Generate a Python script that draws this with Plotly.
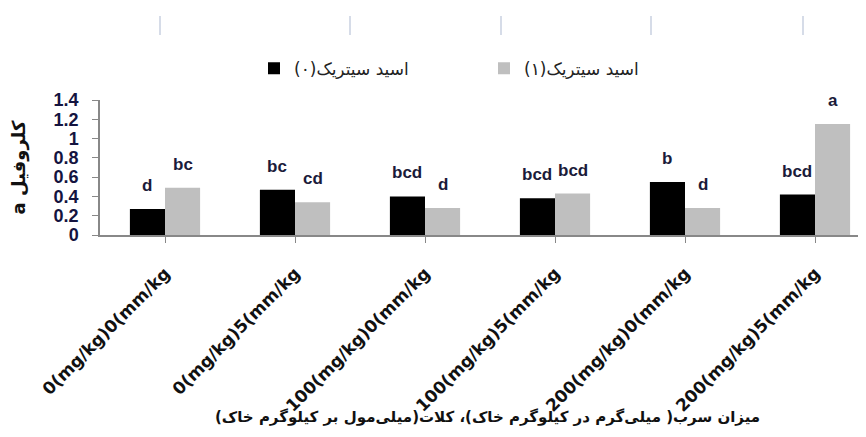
import plotly.graph_objects as go

categories = ["0(mg/kg)0(mm/kg", "0(mg/kg)5(mm/kg", "100(mg/kg)0(mm/kg",
              "100(mg/kg)5(mm/kg", "200(mg/kg)0(mm/kg", "200(mg/kg)5(mm/kg"]
series_names = ["\u202bاسید سیتریک(۰)\u202c", "\u202bاسید سیتریک(۱)\u202c"]
values_0 = [0.27, 0.47, 0.40, 0.38, 0.55, 0.42]
values_1 = [0.49, 0.34, 0.28, 0.43, 0.28, 1.15]
letters_0 = ["d", "bc", "bcd", "bcd", "b", "bcd"]
letters_1 = ["bc", "cd", "d", "bcd", "d", "a"]
y_ticks = [0, 0.2, 0.4, 0.6, 0.8, 1, 1.2, 1.4]
y_title = "\u202bکلروفیل a\u202c"
x_title = "\u202bمیزان سرب( میلی‌گرم در کیلوگرم خاک)، کلات(میلی‌مول بر کیلوگرم خاک)\u202c"

idx = list(range(len(categories)))

# page has an 8px body margin: plot area spans page x 100..866, y 99.5..235.5
OFF = 8
L, TOP, PW, PH = 100 - OFF, 99.5 - OFF, 766, 136


def px_to_paper_x(px):
    return (px - 100) / PW


def py_to_paper_y(py):
    return (235.5 - py) / PH


fig = go.Figure()
fig.add_trace(go.Bar(x=idx, y=values_0, name=series_names[0],
                     marker=dict(color="#000000", line=dict(width=0))))
fig.add_trace(go.Bar(x=idx, y=values_1, name=series_names[1],
                     marker=dict(color="#BFBFBF", line=dict(width=0))))

label_font = dict(family="Liberation Sans", size=17, color="#1b1b3a", weight="bold")
for i in idx:
    fig.add_annotation(x=i - 0.135, y=values_0[i], text=letters_0[i], showarrow=False,
                       yanchor="bottom", yshift=12, font=label_font)
    fig.add_annotation(x=i + 0.135, y=values_1[i], text=letters_1[i], showarrow=False,
                       yanchor="bottom", yshift=12, font=label_font)

# x-axis title as annotation (overlaps tick labels like in reference)
fig.add_annotation(xref="paper", yref="paper", x=px_to_paper_x(487), y=py_to_paper_y(419),
                   text=x_title, showarrow=False, xanchor="center", yanchor="middle",
                   font=dict(family="DejaVu Sans", size=15, color="#111111", weight="bold"))

# faint vertical strokes at top
for px in [160, 350, 501, 651, 803]:
    xp = px_to_paper_x(px)
    fig.add_shape(type="line", xref="paper", yref="paper", x0=xp, x1=xp,
                  y0=py_to_paper_y(15), y1=py_to_paper_y(34),
                  line=dict(color="#C9D1E0", width=1.5))

fig.update_layout(
    width=866, height=437,
    paper_bgcolor="white", plot_bgcolor="white",
    margin=dict(l=L, r=866 - L - PW, t=TOP, b=437 - TOP - PH, autoexpand=False),
    barmode="group", bargap=0.46, bargroupgap=0,
    showlegend=True,
    legend=dict(orientation="h", x=px_to_paper_x(254), xanchor="left",
                y=py_to_paper_y(68), yanchor="middle",
                font=dict(family="DejaVu Sans", size=17, color="#222222"),
                entrywidth=185, entrywidthmode="pixels",
                itemwidth=30, bgcolor="rgba(0,0,0,0)"),
    xaxis=dict(range=[-0.5, -0.5 + PW / 130], tickmode="array", tickvals=idx,
               ticktext=categories, tickangle=-45, tickson="boundaries",
               ticks="outside", ticklen=6, tickcolor="#888888",
               showline=True, linecolor="#888888", linewidth=1.5,
               showgrid=False, zeroline=False, ticklabelstandoff=14,
               tickfont=dict(family="DejaVu Sans", size=17, color="#111111", weight="bold")),
    yaxis=dict(range=[0, 1.4], tickmode="array", tickvals=y_ticks,
               ticks="outside", ticklen=6, tickcolor="#888888",
               showline=True, linecolor="#888888", linewidth=1.5,
               showgrid=False, zeroline=False, ticklabelstandoff=10,
               tickfont=dict(family="Liberation Sans", size=18, color="#141440", weight="bold"),
               title=dict(text=y_title, standoff=30,
                          font=dict(family="DejaVu Sans", size=18, color="#111111", weight="bold"))),
)

fig.write_html("out.html")
